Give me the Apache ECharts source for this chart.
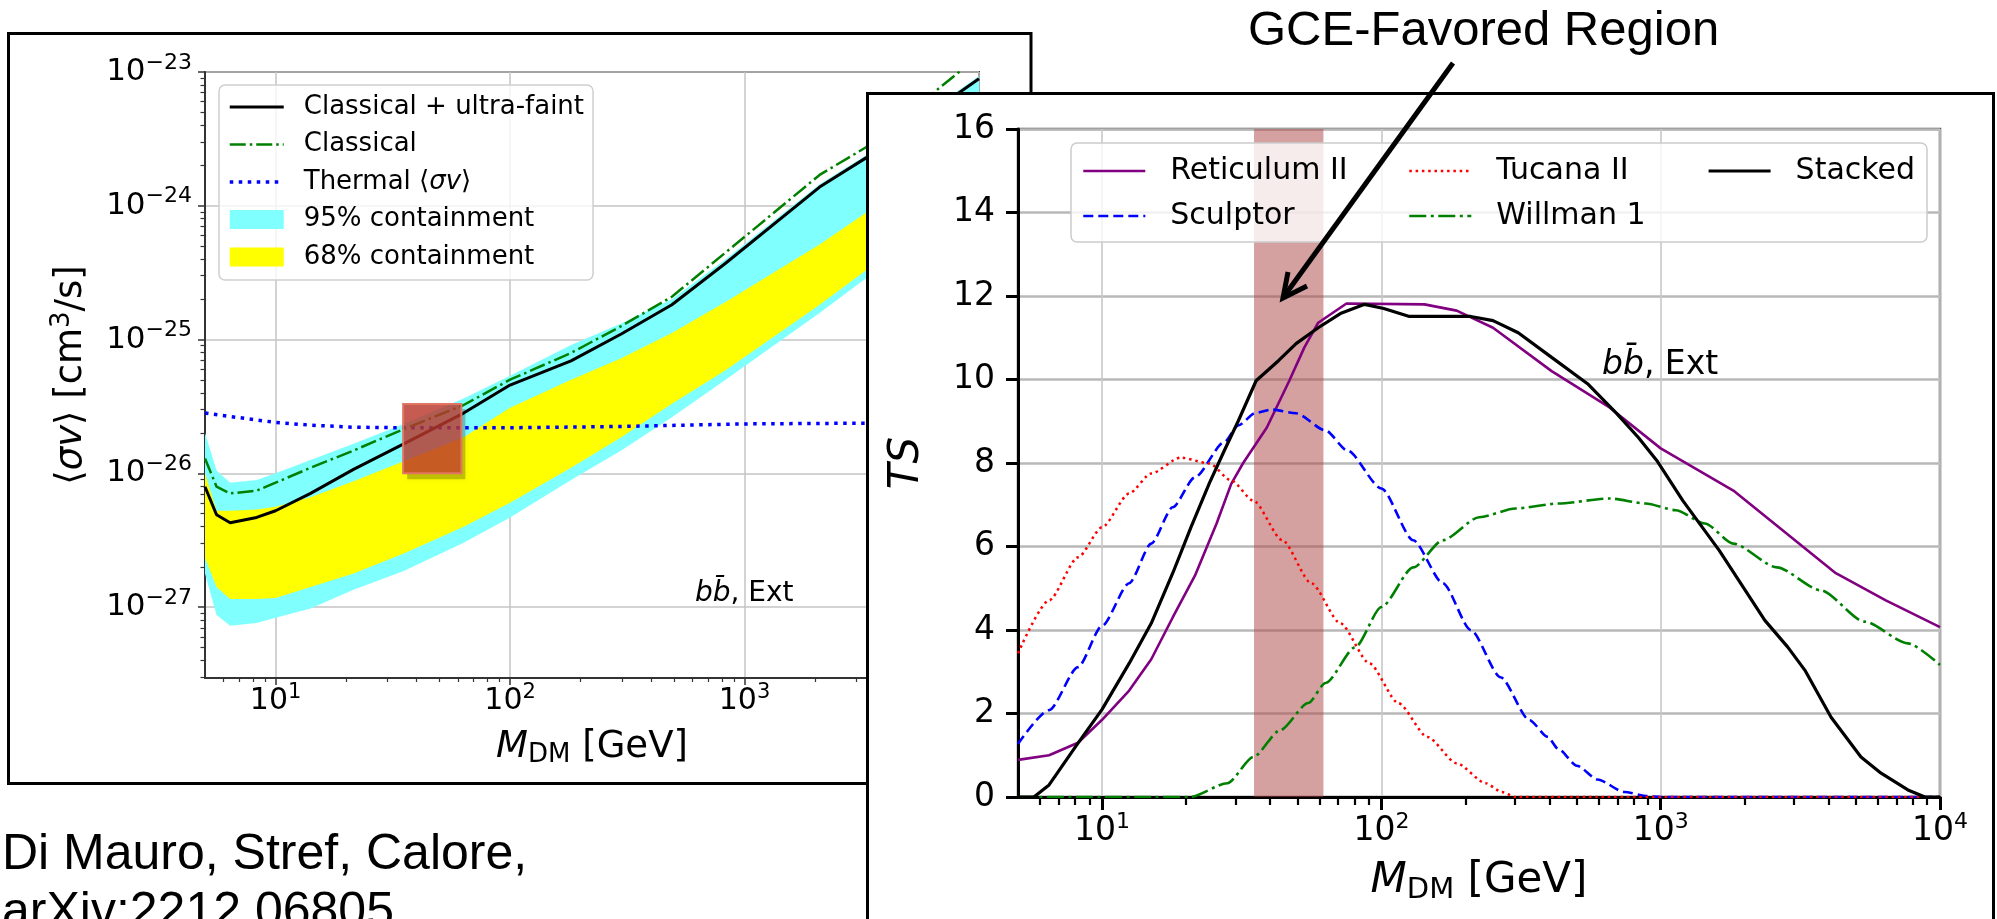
<!DOCTYPE html>
<html>
<head>
<meta charset="utf-8">
<title>Dwarf spheroidal limits and TS profiles</title>
<script src="https://cdn.jsdelivr.net/npm/echarts@6/dist/echarts.min.js"></script>
<style>
  html, body { margin: 0; padding: 0; background: #fff; overflow: hidden; }
  #limits, #tsProfile { position: absolute; left: 0; top: 0; width: 1997px; height: 919px; }
</style>
</head>
<body>
<div id="limits"></div>
<div id="tsProfile"></div>
<script>
// ---------- Upper limits on <σv> in cm^3/s (bb̄, Ext) ----------
const limitMass       = [5.0, 5.6, 6.4, 8.3, 10, 14.1, 21.5, 35.2, 63.4, 100, 182, 298, 490, 830, 2090, 3310, 10000];
const limitCombined   = [7.94e-27, 4.90e-27, 4.27e-27, 4.68e-27, 5.25e-27, 7.08e-27, 1.07e-26, 1.66e-26, 2.82e-26, 4.57e-26, 6.92e-26, 1.10e-25, 1.82e-25, 3.72e-25, 1.38e-24, 2.29e-24, 8.91e-24];
const limitClassical  = [1.29e-26, 7.94e-27, 7.08e-27, 7.41e-27, 8.51e-27, 1.10e-26, 1.48e-26, 2.14e-26, 3.24e-26, 5.01e-26, 7.94e-26, 1.26e-25, 2.09e-25, 4.47e-25, 1.70e-24, 2.75e-24, 1.32e-23];
const band95Upper     = [2.00e-26, 1.05e-26, 8.51e-27, 8.91e-27, 1.00e-26, 1.26e-26, 1.66e-26, 2.34e-26, 3.63e-26, 5.37e-26, 9.12e-26, 1.32e-25, 2.00e-25, 3.98e-25, 1.45e-24, 2.40e-24, 9.33e-24];
const band95Lower     = [1.78e-27, 8.71e-28, 7.24e-28, 7.59e-28, 8.32e-28, 9.77e-28, 1.35e-27, 1.86e-27, 3.02e-27, 4.68e-27, 8.91e-27, 1.48e-26, 2.63e-26, 5.01e-26, 1.58e-25, 2.88e-25, 1.23e-24];
const band68Upper     = [1.00e-26, 5.25e-27, 5.25e-27, 5.37e-27, 5.62e-27, 6.61e-27, 8.71e-27, 1.23e-26, 1.86e-26, 3.09e-26, 5.01e-26, 7.24e-26, 1.12e-25, 1.91e-25, 5.13e-25, 8.91e-25, 3.47e-24];
const band68Lower     = [2.34e-27, 1.41e-27, 1.15e-27, 1.15e-27, 1.17e-27, 1.41e-27, 1.78e-27, 2.51e-27, 3.98e-27, 6.03e-27, 1.10e-26, 1.86e-26, 3.31e-26, 5.89e-26, 1.82e-25, 3.31e-25, 1.41e-24];
const thermalMass     = [5, 6.4, 10, 14.1, 21.5, 35.2, 100, 298, 1000, 10000];
const thermalXsec     = [2.82e-26, 2.66e-26, 2.40e-26, 2.29e-26, 2.21e-26, 2.19e-26, 2.19e-26, 2.24e-26, 2.34e-26, 2.40e-26];

const limitXRange     = [5, 10000];
const limitYRange     = [2.95e-28, 1e-23];
const limitXTicks     = [10, 100, 1000];

// GCE-favoured window: mass range and cross-section range of the highlighted box
const gceMassRange    = [35, 62];
const gceXsecRange    = [1e-26, 3.3e-26];

// the cross-section axis works in units of 1e-26 cm^3/s (keeps the log scale away from tiny floats)
const XSEC_UNIT = 1e-26;
const XSEC_UNIT_EXP = -26;

// ---------- TS profiles of individual dwarfs and the stacked analysis ----------
const reticulumMass = [5.0, 6.46, 8.2, 10, 12.5, 15.0, 17.9, 21.5, 25.7, 29.0, 32.0, 38.9, 46.8, 53.0, 59.4, 75.0, 142.6, 186, 251, 407, 656, 1000, 1820, 3126, 4236, 6397, 10000];
const reticulumTS   = [0.89, 1.0, 1.3, 1.85, 2.55, 3.3, 4.3, 5.3, 6.55, 7.5, 8.0, 8.85, 9.97, 10.77, 11.36, 11.82, 11.80, 11.65, 11.24, 10.2, 9.33, 8.35, 7.34, 6.07, 5.36, 4.71, 4.07];

const sculptorMass  = [5.0, 6.46, 8.2, 10, 12.5, 15.0, 17.9, 21.5, 27.4, 30.7, 35.5, 40.4, 49.5, 63.1, 75.5, 100, 130, 166, 209, 267, 339, 394, 430, 501, 594, 741, 898, 1000, 10000];
const sculptorTS    = [1.27, 2.08, 3.11, 4.1, 5.12, 6.07, 6.94, 7.66, 8.5, 8.9, 9.2, 9.28, 9.19, 8.78, 8.3, 7.39, 6.15, 5.12, 4.0, 2.87, 1.84, 1.44, 1.15, 0.75, 0.42, 0.12, 0.02, 0, 0];

const tucanaMass    = [5.0, 6.46, 8.2, 10, 12.5, 15.0, 19.1, 24.2, 29.0, 34.8, 44.2, 56.1, 71.3, 90.6, 115, 146, 186, 236, 270, 302, 10000];
const tucanaTS      = [3.44, 4.71, 5.74, 6.46, 7.27, 7.75, 8.13, 7.99, 7.58, 7.1, 6.15, 5.12, 4.16, 3.2, 2.25, 1.44, 0.81, 0.33, 0.12, 0, 0];

const willmanMass   = [5.0, 20.7, 28.1, 34.8, 43.4, 54.7, 63.1, 80.7, 100, 130, 166, 224, 302, 430, 656, 883, 1132, 1439, 1820, 2606, 3741, 5370, 7674, 10000];
const willmanTS     = [0, 0, 0.33, 0.96, 1.6, 2.25, 2.73, 3.59, 4.55, 5.5, 6.15, 6.7, 6.91, 7.03, 7.15, 7.03, 6.87, 6.55, 6.07, 5.5, 4.95, 4.2, 3.68, 3.16];

const stackedMass   = [5.0, 5.7, 6.46, 8.2, 10, 12.5, 15.0, 17.9, 20.8, 24.2, 27.4, 30.7, 35.6, 42.8, 49.5, 59.4, 71.3, 87.1, 102, 126, 209, 251, 309, 407, 547, 695, 832, 968, 1200, 1622, 2360, 2851, 3281, 4074, 5212, 6152, 7674, 8831, 10000];
const stackedTS     = [0, 0, 0.29, 1.29, 2.1, 3.2, 4.16, 5.36, 6.46, 7.51, 8.3, 9.0, 9.97, 10.45, 10.86, 11.24, 11.58, 11.80, 11.70, 11.51, 11.51, 11.41, 11.12, 10.53, 9.9, 9.19, 8.61, 8.06, 7.1, 5.9, 4.23, 3.59, 3.04, 1.91, 0.96, 0.57, 0.17, 0, 0];

const tsXRange      = [5, 10000];
const tsYRange      = [0, 16];
const tsXTicks      = [10, 100, 1000, 10000];

// ---------- helpers ----------
const DV = 'DejaVu Sans';
const SANS = 'Liberation Sans';
const CYAN = '#80ffff';
const YELLOW = '#ffff00';

const pairs = (xs, ys) => xs.map((x, i) => [x, ys[i]]);
const toUnit = v => Number((v / XSEC_UNIT).toPrecision(12));
const xsecPairs = (xs, ys) => xs.map((x, i) => [x, toUnit(ys[i])]);

const expText = e => e < 0 ? '\u2212' + (-e) : String(e);
const isDecade = v => Math.abs(Math.log10(v) - Math.round(Math.log10(v))) < 0.01;

function powerRich(size, supSize, supPad) {
  return {
    b: { fontFamily: DV, fontSize: size, color: '#000' },
    s: { fontFamily: DV, fontSize: supSize, color: '#000', padding: [0, 0, supPad, 0] }
  };
}
// label for a decade value; shift adds the exponent of the axis unit
const powerText = shift => v => isDecade(v) ? '{b|10}{s|' + expText(Math.round(Math.log10(v)) + shift) + '}' : '';

// 2..9 × 10^n positions between lo and hi
function minorLogTicks(lo, hi) {
  const out = [];
  for (let d = Math.floor(Math.log10(lo)); d <= Math.ceil(Math.log10(hi)); d++) {
    for (let k = 2; k <= 9; k++) {
      const v = Number((k * Math.pow(10, d)).toPrecision(12));
      if (v > lo * 1.0001 && v < hi * 0.9999) out.push(v);
    }
  }
  return out;
}
function decades(lo, hi) {
  const out = [];
  for (let d = Math.ceil(Math.log10(lo) - 1e-9); d <= Math.floor(Math.log10(hi) + 1e-9); d++) out.push(Number(Math.pow(10, d).toPrecision(12)));
  return out;
}

// filled containment band between lower and upper curves
function bandRenderer(xs, lower, upper, color) {
  return function (params, api) {
    const pts = [];
    for (let i = 0; i < xs.length; i++) pts.push(api.coord([xs[i], toUnit(upper[i])]));
    for (let i = xs.length - 1; i >= 0; i--) pts.push(api.coord([xs[i], toUnit(lower[i])]));
    return { type: 'polygon', shape: { points: pts }, style: { fill: color } };
  };
}

const yLo = toUnit(limitYRange[0]);
const yHi = toUnit(limitYRange[1]);

// ================= left panel =================
const limits = echarts.init(document.getElementById('limits'));
limits.setOption({
  animation: false,
  backgroundColor: '#fff',
  textStyle: { fontFamily: DV },
  grid: { left: 205, top: 72, width: 774, height: 606, show: true, borderColor: '#404040', borderWidth: 2, backgroundColor: 'transparent' },
  xAxis: [
    {
      type: 'log', logBase: 10, min: limitXRange[0], max: limitXRange[1],
      axisLine: { show: true, lineStyle: { color: '#333', width: 2 } },
      axisTick: { show: true, length: 7, lineStyle: { color: '#333', width: 1.5 }, customValues: decades(limitXRange[0], limitXRange[1]) },
      axisLabel: { customValues: limitXTicks, margin: 4, formatter: powerText(0), rich: powerRich(30, 21, 18) },
      splitLine: { show: true, lineStyle: { color: '#c4c4c4', width: 1.5 } },
      name: '{i|M}{d|DM}{n| [GeV]}', nameLocation: 'middle', nameGap: 48,
      nameTextStyle: {
        fontFamily: DV, fontSize: 37, color: '#000',
        rich: {
          i: { fontFamily: DV, fontStyle: 'italic', fontSize: 37, color: '#000' },
          d: { fontFamily: DV, fontSize: 26, color: '#000', padding: [16, 0, 0, 0] },
          n: { fontFamily: DV, fontSize: 37, color: '#000' }
        }
      }
    },
    {
      type: 'log', logBase: 10, min: limitXRange[0], max: limitXRange[1], position: 'bottom',
      axisLine: { show: false },
      axisTick: { show: true, length: 4, lineStyle: { color: '#333', width: 1.2 }, customValues: minorLogTicks(limitXRange[0], limitXRange[1]) },
      axisLabel: { show: false }, splitLine: { show: false }
    }
  ],
  yAxis: [
    {
      type: 'log', logBase: 10, min: yLo, max: yHi,
      axisLine: { show: true, lineStyle: { color: '#333', width: 2 } },
      axisTick: { show: true, length: 7, lineStyle: { color: '#333', width: 1.5 }, customValues: decades(yLo, yHi) },
      axisLabel: { customValues: decades(yLo, yHi), margin: 13, formatter: powerText(XSEC_UNIT_EXP), rich: powerRich(31, 22, 18) },
      splitLine: { show: true, lineStyle: { color: '#c4c4c4', width: 1.5 } },
      name: '\u27e8{i|\u03c3v}\u27e9 [cm{p|3}/s]', nameLocation: 'middle', nameGap: 112,
      nameTextStyle: {
        fontFamily: DV, fontSize: 37, color: '#000',
        rich: {
          i: { fontFamily: DV, fontStyle: 'italic', fontSize: 37, color: '#000' },
          p: { fontFamily: DV, fontSize: 26, color: '#000', padding: [0, 0, 18, 0] }
        }
      }
    },
    {
      type: 'log', logBase: 10, min: yLo, max: yHi, position: 'left',
      axisLine: { show: false },
      axisTick: { show: true, length: 4.5, lineStyle: { color: '#333', width: 1.2 }, customValues: minorLogTicks(yLo, yHi) },
      axisLabel: { show: false }, splitLine: { show: false }
    }
  ],
  legend: {
    left: 219, top: 85, orient: 'vertical', selectedMode: false,
    padding: [9, 9, 10, 9], itemGap: 11.5, itemWidth: 54, itemHeight: 19,
    backgroundColor: 'rgba(255,255,255,0.8)', borderColor: '#cfcfcf', borderWidth: 1.5, borderRadius: 6,
    lineStyle: { width: 'inherit' },
    data: [
      { name: 'Classical + ultra-faint', itemStyle: { opacity: 0 } },
      { name: 'Classical', itemStyle: { opacity: 0 } },
      { name: 'Thermal \u27e8\u03c3v\u27e9', itemStyle: { opacity: 0 } },
      { name: '95% containment', icon: 'rect' },
      { name: '68% containment', icon: 'rect' }
    ],
    formatter: n => n === 'Thermal \u27e8\u03c3v\u27e9'
      ? '{tp|Thermal \u27e8}{ti|\u03c3v}{t|\u27e9}'
      : '{tp|' + n + '}',
    textStyle: {
      fontFamily: DV, fontSize: 26, color: '#000',
      rich: {
        tp: { fontFamily: DV, fontSize: 26, color: '#000', padding: [0, 0, 0, 15] },
        t:  { fontFamily: DV, fontSize: 26, color: '#000' },
        ti: { fontFamily: DV, fontSize: 26, color: '#000', fontStyle: 'italic' }
      }
    }
  },
  series: [
    {
      name: '95% containment', type: 'custom', clip: true, z: 1, silent: true,
      itemStyle: { color: CYAN },
      renderItem: bandRenderer(limitMass, band95Lower, band95Upper, CYAN),
      data: [[limitMass[0], toUnit(band95Upper[0])]]
    },
    {
      name: '68% containment', type: 'custom', clip: true, z: 1, silent: true,
      itemStyle: { color: YELLOW },
      renderItem: bandRenderer(limitMass, band68Lower, band68Upper, YELLOW),
      data: [[limitMass[0], toUnit(band68Upper[0])]]
    },
    {
      name: 'Thermal \u27e8\u03c3v\u27e9', type: 'line', z: 3, symbol: 'none', silent: true,
      data: xsecPairs(thermalMass, thermalXsec),
      itemStyle: { color: '#0000ff' },
      lineStyle: { color: '#0000ff', width: 3.5, type: [3.5, 5.5] }
    },
    {
      name: 'Classical', type: 'line', z: 4, symbol: 'none', silent: true,
      data: xsecPairs(limitMass, limitClassical),
      itemStyle: { color: '#008000' },
      lineStyle: { color: '#008000', width: 2.5, type: [16, 4, 2.5, 4] }
    },
    {
      name: 'Classical + ultra-faint', type: 'line', z: 5, symbol: 'none', silent: true,
      data: xsecPairs(limitMass, limitCombined),
      itemStyle: { color: '#000' },
      lineStyle: { color: '#000', width: 3 }
    },
    {
      // highlighted GCE-favoured box with a soft drop shadow on its lower-right side
      name: 'GCE window', type: 'custom', z: 8, clip: true, silent: true,
      data: [[gceMassRange[0], toUnit(gceXsecRange[0]), gceMassRange[1], toUnit(gceXsecRange[1])]],
      encode: { x: [0, 2], y: [1, 3] },
      renderItem: (params, api) => {
        const a = api.coord([api.value(0), api.value(3)]);
        const b = api.coord([api.value(2), api.value(1)]);
        const x0 = a[0], y0 = a[1], x1 = b[0], y1 = b[1];
        return {
          type: 'group',
          children: [
            { type: 'polygon',
              shape: { points: [[x1, y0 + 5], [x1 + 4, y0 + 5], [x1 + 4, y1 + 6], [x0 + 4, y1 + 6], [x0 + 4, y1], [x1, y1]] },
              style: { fill: 'rgba(0,0,0,0.22)', shadowBlur: 6, shadowColor: 'rgba(0,0,0,0.3)' } },
            { type: 'rect', shape: { x: x0, y: y0, width: x1 - x0, height: y1 - y0 },
              style: { fill: 'rgba(186,55,44,0.82)', stroke: '#e07563', lineWidth: 2 } }
          ]
        };
      }
    }
  ],
  graphic: [
    { type: 'rect', z: 50, silent: true, shape: { x: 8.5, y: 33.5, width: 1022.5, height: 750 }, style: { fill: 'none', stroke: '#000', lineWidth: 3 } },
    { type: 'text', z: 50, silent: true, x: 695, y: 594,
      style: { text: '{i|bb\u0304}, Ext', fontFamily: DV, fontSize: 28, fill: '#000', verticalAlign: 'middle',
               rich: { i: { fontFamily: DV, fontSize: 28, fontStyle: 'italic', fill: '#000' } } } },
    { type: 'text', z: 50, silent: true, x: 2, y: 855,
      style: { text: 'Di Mauro, Stref, Calore,', fontFamily: SANS, fontSize: 50, fill: '#000', verticalAlign: 'middle' } },
    { type: 'text', z: 50, silent: true, x: 2, y: 913,
      style: { text: 'arXiv:2212.06805', fontFamily: SANS, fontSize: 50, fill: '#000', verticalAlign: 'middle' } }
  ]
});

// ================= right panel =================
const legendText = {
  fontFamily: DV, fontSize: 30, color: '#000',
  rich: { tp: { fontFamily: DV, fontSize: 30, color: '#000', padding: [0, 0, 0, 20] } }
};
const legendCommon = {
  orient: 'vertical', selectedMode: false, padding: 0, itemGap: 15, itemWidth: 62, itemHeight: 14,
  itemStyle: { opacity: 0 }, lineStyle: { width: 'inherit' },
  formatter: n => '{tp|' + n + '}', textStyle: legendText
};

const tsProfile = echarts.init(document.getElementById('tsProfile'));
tsProfile.setOption({
  animation: false,
  textStyle: { fontFamily: DV },
  grid: { left: 1018, top: 129, width: 922, height: 668, show: true, borderColor: '#555', borderWidth: 2.5, backgroundColor: 'transparent' },
  xAxis: [
    {
      type: 'log', logBase: 10, min: tsXRange[0], max: tsXRange[1],
      axisLine: { show: true, lineStyle: { color: '#000', width: 3 } },
      axisTick: { show: true, length: 13, lineStyle: { color: '#000', width: 3 }, customValues: decades(tsXRange[0], tsXRange[1]) },
      axisLabel: { customValues: tsXTicks, margin: 14, formatter: powerText(0), rich: powerRich(33, 22, 18) },
      splitLine: { show: true, lineStyle: { color: '#c8c8c8', width: 1.6 } },
      name: '{i|M}{d|DM}{n| [GeV]}', nameLocation: 'middle', nameGap: 61,
      nameTextStyle: {
        fontFamily: DV, fontSize: 42, color: '#000',
        rich: {
          i: { fontFamily: DV, fontStyle: 'italic', fontSize: 42, color: '#000' },
          d: { fontFamily: DV, fontSize: 29, color: '#000', padding: [18, 0, 0, 0] },
          n: { fontFamily: DV, fontSize: 42, color: '#000' }
        }
      }
    },
    {
      type: 'log', logBase: 10, min: tsXRange[0], max: tsXRange[1], position: 'bottom',
      axisLine: { show: false },
      axisTick: { show: true, length: 8, lineStyle: { color: '#000', width: 2.2 }, customValues: minorLogTicks(tsXRange[0], tsXRange[1]) },
      axisLabel: { show: false }, splitLine: { show: false }
    }
  ],
  yAxis: {
    type: 'value', min: tsYRange[0], max: tsYRange[1], interval: 2,
    axisLine: { show: true, lineStyle: { color: '#000', width: 3 } },
    axisTick: { show: true, length: 12, lineStyle: { color: '#000', width: 3 } },
    axisLabel: { fontFamily: DV, fontSize: 33, color: '#000', margin: 23 },
    splitLine: { show: true, lineStyle: { color: '#b8b8b8', width: 2.5 } },
    name: '{i|TS}', nameLocation: 'middle', nameGap: 90,
    nameTextStyle: { fontFamily: DV, fontSize: 42, color: '#000', rich: { i: { fontFamily: DV, fontStyle: 'italic', fontSize: 42, color: '#000' } } }
  },
  legend: [
    Object.assign({ left: 1082, top: 156, data: ['Reticulum II', 'Sculptor'] }, legendCommon),
    Object.assign({ left: 1408, top: 156, data: ['Tucana II', 'Willman 1'] }, legendCommon),
    Object.assign({ left: 1707, top: 156, data: ['Stacked'] }, legendCommon)
  ],
  series: [
    {
      name: 'Reticulum II', type: 'line', symbol: 'none', silent: true,
      data: pairs(reticulumMass, reticulumTS),
      itemStyle: { color: '#800080' }, lineStyle: { color: '#800080', width: 2.6 }
    },
    {
      name: 'Sculptor', type: 'line', symbol: 'none', silent: true, smooth: 0.25, smoothMonotone: 'x',
      data: pairs(sculptorMass, sculptorTS),
      itemStyle: { color: '#0000ff' }, lineStyle: { color: '#0000ff', width: 2.6, type: [10, 5] }
    },
    {
      name: 'Tucana II', type: 'line', symbol: 'none', silent: true, smooth: 0.25, smoothMonotone: 'x',
      data: pairs(tucanaMass, tucanaTS),
      itemStyle: { color: '#ff0000' }, lineStyle: { color: '#ff0000', width: 2.5, type: [2.5, 3.8] }
    },
    {
      name: 'Willman 1', type: 'line', symbol: 'none', silent: true, smooth: 0.25, smoothMonotone: 'x',
      data: pairs(willmanMass, willmanTS),
      itemStyle: { color: '#008000' }, lineStyle: { color: '#008000', width: 2.6, type: [17, 4.5, 3, 4.5] }
    },
    {
      name: 'Stacked', type: 'line', symbol: 'none', silent: true,
      data: pairs(stackedMass, stackedTS),
      itemStyle: { color: '#000' }, lineStyle: { color: '#000', width: 3.2 }
    },
    {
      name: 'GCE window', type: 'line', z: 10, symbol: 'none', silent: true, data: [],
      markArea: {
        silent: true,
        itemStyle: { color: 'rgba(169,65,65,0.5)' },
        data: [[{ xAxis: gceMassRange[0], yAxis: tsYRange[0] }, { xAxis: gceMassRange[1], yAxis: tsYRange[1] }]]
      }
    }
  ],
  graphic: [
    { type: 'rect', z: -10, silent: true, shape: { x: 867.5, y: 93.5, width: 1126, height: 900 }, style: { fill: '#fff', stroke: '#000', lineWidth: 3 } },
    { type: 'rect', z: 3, silent: true, shape: { x: 1071, y: 143, width: 856, height: 99, r: 6 }, style: { fill: 'rgba(255,255,255,0.8)', stroke: '#cccccc', lineWidth: 1.5 } },
    { type: 'text', z: 20, silent: true, x: 1602, y: 365,
      style: { text: '{i|bb\u0304}, Ext', fontFamily: DV, fontSize: 33, fill: '#000', verticalAlign: 'middle',
               rich: { i: { fontFamily: DV, fontSize: 33, fontStyle: 'italic', fill: '#000' } } } },
    { type: 'text', z: 20, silent: true, x: 1248, y: 31,
      style: { text: 'GCE-Favored Region', fontFamily: SANS, fontSize: 49, fill: '#000', verticalAlign: 'middle' } },
    { type: 'line', z: 30, silent: true, shape: { x1: 1453, y1: 63, x2: 1285, y2: 295 }, style: { stroke: '#000', lineWidth: 5 } },
    { type: 'polyline', z: 30, silent: true, shape: { points: [[1288, 272], [1283, 298], [1307, 286]] }, style: { stroke: '#000', lineWidth: 5, fill: null, lineJoin: 'miter' } }
  ]
});
</script>
</body>
</html>
